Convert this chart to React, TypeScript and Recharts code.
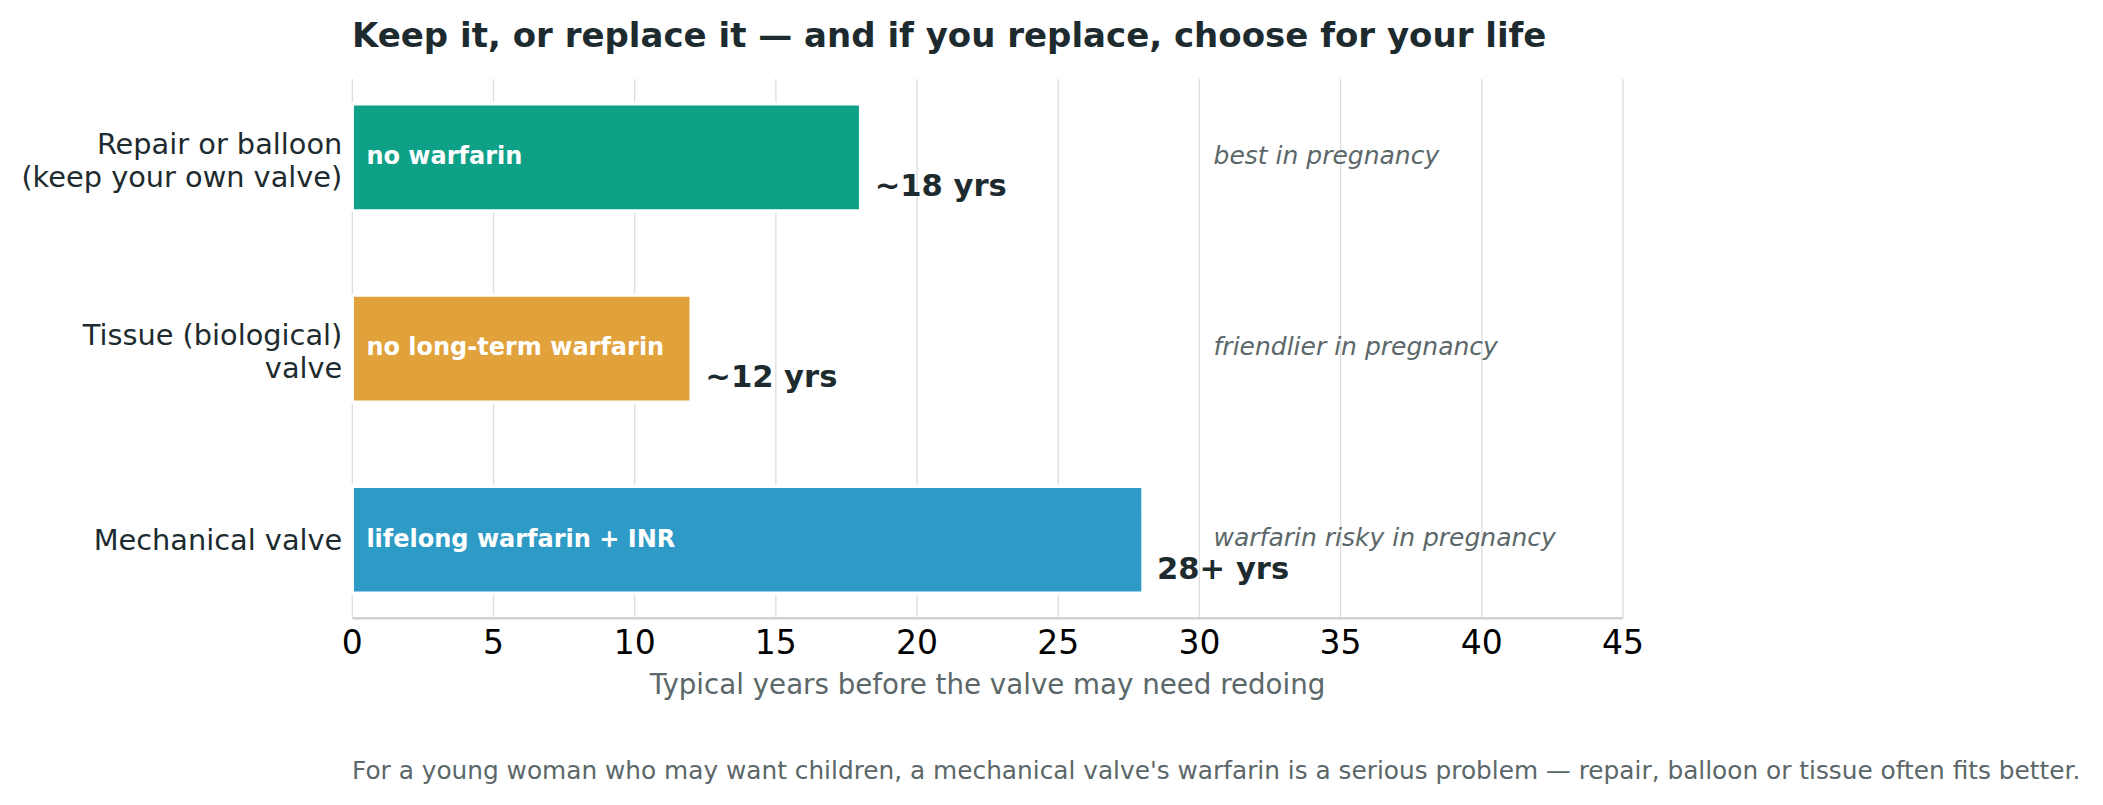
import React from "react";
import {
  BarChart,
  Bar,
  XAxis,
  YAxis,
  CartesianGrid,
  Cell,
  LabelList,
  ReferenceDot,
} from "recharts";

const categories = [
  "Repair or balloon\n(keep your own valve)",
  "Tissue (biological)\nvalve",
  "Mechanical valve",
];
const years = [18, 12, 28];
const valueLabels = ["~18 yrs", "~12 yrs", "28+ yrs"];
const barLabels = ["no warfarin", "no long-term warfarin", "lifelong warfarin + INR"];
const notes = ["best in pregnancy", "friendlier in pregnancy", "warfarin risky in pregnancy"];
const colors = ["#0fa088", "#e1a13b", "#2e9bc6"];
const xTicks = [0, 5, 10, 15, 20, 25, 30, 35, 40, 45];
const noteX = 30.5;

const title = "Keep it, or replace it \u2014 and if you replace, choose for your life";
const xLabel = "Typical years before the valve may need redoing";
const footer =
  "For a young woman who may want children, a mechanical valve's warfarin is a serious problem \u2014 repair, balloon or tissue often fits better.";

const data = categories.map((name, i) => ({
  idx: i,
  name,
  years: years[i],
  valueLabel: valueLabels[i],
  barLabel: barLabels[i],
}));

const FONT = "DejaVu Sans";
const DARK = "#1d2b2f";
const GRAY = "#5b6769";

const W = 2103;
const H = 805;

const YTick = (props: any) => {
  const { x, y, payload } = props;
  const label = categories[payload.value] ?? "";
  const lines = label.split("\n");
  const first = y + 10 - (lines.length - 1) * 13.9;
  return (
    <text
      x={x - 10}
      y={first}
      textAnchor="end"
      fontFamily={FONT}
      fontSize={28.8}
      fill={DARK}
    >
      {lines.map((l: string, k: number) => (
        <tspan key={k} x={x - 10} y={first + k * 33.3}>
          {l}
        </tspan>
      ))}
    </text>
  );
};

const XTick = (props: any) => {
  const { x, y, payload } = props;
  return (
    <text
      x={x}
      y={y + 35.5}
      textAnchor="middle"
      fontFamily={FONT}
      fontSize={33}
      fill="#000"
    >
      {payload.value}
    </text>
  );
};

const renderInside = (props: any) => {
  const { x, y, height, value } = props;
  return (
    <text
      x={x + 14.1}
      y={y + height / 2 + 6.8}
      fontFamily={FONT}
      fontWeight="bold"
      fontSize={24}
      fill="#ffffff"
    >
      {value}
    </text>
  );
};

const renderValue = (props: any) => {
  const { x, y, width, height, value } = props;
  return (
    <text
      x={x + width + 14.1}
      y={y + height / 2 + 38.8}
      fontFamily={FONT}
      fontWeight="bold"
      fontSize={30.6}
      fill={DARK}
    >
      {value}
    </text>
  );
};

export default function App() {
  return (
    <div style={{ position: "absolute", left: 0, top: 0, width: W, height: H, background: "#fff" }}>
      <BarChart
        width={W}
        height={H}
        data={data}
        layout="vertical"
        margin={{ top: 79, right: 480, bottom: 156.7, left: 0 }}
      >
        <CartesianGrid horizontal={false} vertical={true} stroke="#dddddd" strokeWidth={1.3} />
        <XAxis
          type="number"
          dataKey="years"
          domain={[0, 45]}
          ticks={xTicks}
          interval={0}
          height={30}
          tickLine={false}
          tickSize={0}
          tickMargin={0}
          axisLine={{ stroke: "#cdd3d3", strokeWidth: 2.4 }}
          tick={<XTick />}
        />
        <YAxis
          type="number"
          dataKey="idx"
          domain={[-0.41, 2.41]}
          ticks={[0, 1, 2]}
          interval={0}
          width={352.3}
          axisLine={false}
          tickLine={false}
          tickSize={0}
          tickMargin={0}
          tick={<YTick />}
          allowDataOverflow
        />
        <Bar
          dataKey="years"
          barSize={107}
          stroke="#ffffff"
          strokeWidth={3.3}
          isAnimationActive={false}
        >
          {data.map((d, i) => (
            <Cell key={d.name} fill={colors[i]} />
          ))}
          <LabelList dataKey="barLabel" content={renderInside} />
          <LabelList dataKey="valueLabel" content={renderValue} />
        </Bar>
        {notes.map((n, i) => (
          <ReferenceDot
            key={n}
            x={noteX}
            y={i}
            r={0}
            ifOverflow="visible"
            shape={(p: any) => (
              <text
                x={p.cx}
                y={p.cy + 6.5}
                fontFamily={FONT}
                fontStyle="italic"
                fontSize={25}
                fill={GRAY}
              >
                {n}
              </text>
            )}
          />
        ))}
      </BarChart>
      <svg
        width={W}
        height={H}
        style={{ position: "absolute", left: 0, top: 0, pointerEvents: "none" }}
      >
        <text x={352} y={46.7} fontFamily={FONT} fontWeight="bold" fontSize={34} fill={DARK}>
          {title}
        </text>
        <text x={987.6} y={694.3} textAnchor="middle" fontFamily={FONT} fontSize={27.7} fill={GRAY}>
          {xLabel}
        </text>
        <text x={352} y={779.3} fontFamily={FONT} fontSize={24.8} fill={GRAY}>
          {footer}
        </text>
      </svg>
    </div>
  );
}
